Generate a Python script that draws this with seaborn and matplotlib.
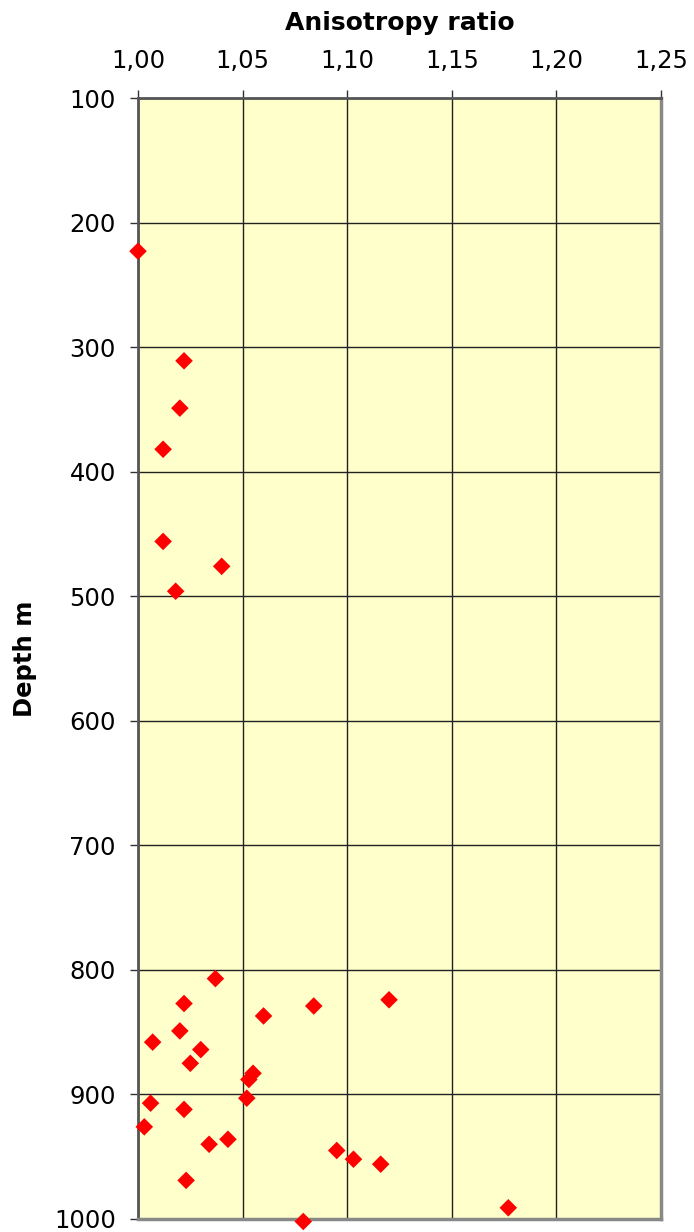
import numpy as np
import pandas as pd
import matplotlib
matplotlib.use("Agg")
import matplotlib.pyplot as plt
from matplotlib.ticker import FuncFormatter
import seaborn as sns

# anisotropy ratio vs depth
ratio = [1.000, 1.022, 1.020, 1.012, 1.012, 1.040, 1.018,
         1.037, 1.022, 1.120, 1.084, 1.060, 1.007, 1.020, 1.030,
         1.025, 1.055, 1.053, 1.052, 1.006, 1.022, 1.003, 1.043,
         1.034, 1.023, 1.095, 1.103, 1.116, 1.177, 1.079]
depth = [223, 311, 349, 382, 456, 476, 496,
         807, 827, 824, 829, 837, 858, 849, 864,
         875, 883, 888, 903, 907, 912, 926, 936,
         940, 969, 945, 952, 956, 991, 1002]

x_ticks = [1.00, 1.05, 1.10, 1.15, 1.20, 1.25]
y_ticks = [100, 200, 300, 400, 500, 600, 700, 800, 900, 1000]

df = pd.DataFrame({"ratio": ratio, "depth": depth})

sns.set_style("white")
plt.rcParams['font.family'] = ['DejaVu Sans']

fig = plt.figure(figsize=(6.94, 12.32), dpi=100)
ax = fig.add_axes([138 / 694, 1 - 1219 / 1232, 523 / 694, 1121 / 1232])
ax.set_facecolor("#FFFFCC")

sns.scatterplot(data=df, x="ratio", y="depth", marker="D", s=80,
                color="#FF0000", edgecolor="none", linewidth=0,
                ax=ax, clip_on=False, zorder=5)

ax.set_xlim(1.00, 1.25)
ax.set_ylim(1000, 100)
ax.set_xticks(x_ticks)
ax.set_yticks(y_ticks)
ax.xaxis.set_major_formatter(FuncFormatter(lambda v, p: f"{v:.2f}".replace(".", ",")))
ax.xaxis.tick_top()
ax.xaxis.set_label_position("top")

ax.grid(True, color="#222222", linewidth=1)
ax.set_axisbelow(True)

for side in ["left", "top"]:
    ax.spines[side].set_color("#555555")
    ax.spines[side].set_linewidth(2)
for side in ["right", "bottom"]:
    ax.spines[side].set_color("#888888")
    ax.spines[side].set_linewidth(2.5)

ax.tick_params(axis="both", direction="out", length=6, width=1,
               color="#333333", labelcolor="black", labelsize=17.5)
ax.tick_params(axis="x", top=True, bottom=False, pad=12)
ax.tick_params(axis="y", left=True, pad=10)

ax.set_xlabel("Anisotropy ratio", fontsize=18, fontweight="bold",
              color="black", labelpad=14)
ax.set_ylabel("Depth m", fontsize=17.5, fontweight="bold",
              color="black", labelpad=12)

fig.savefig("out.png", dpi=100)
